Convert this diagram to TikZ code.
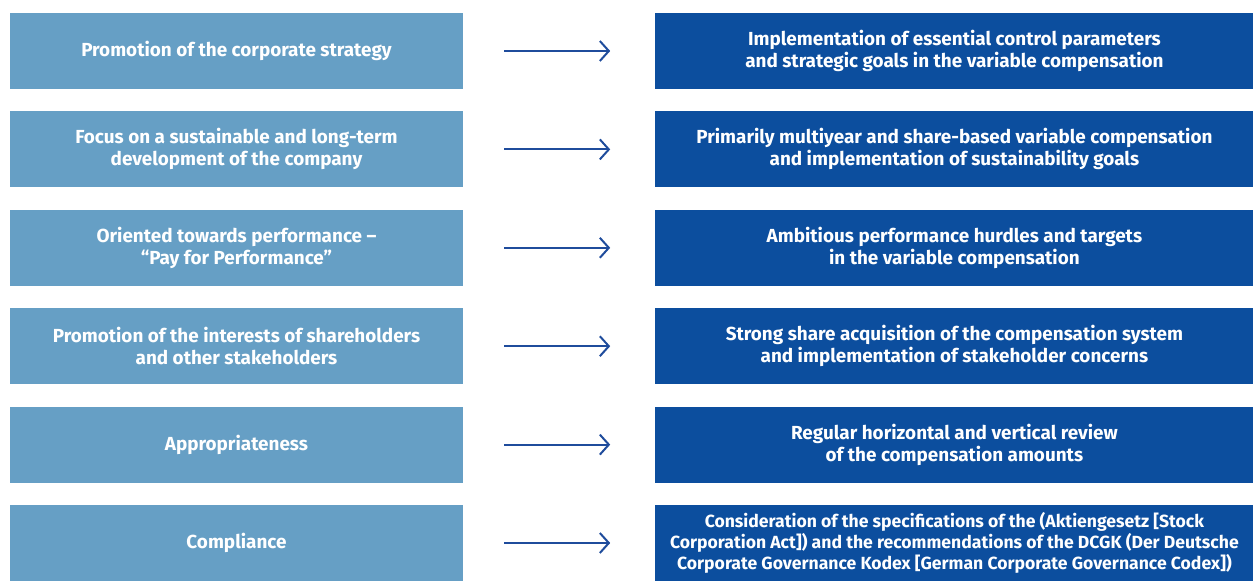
\documentclass[tikz,border=0pt]{standalone}
\usepackage{fontspec}
\setmainfont{Fira Sans}
\usetikzlibrary{positioning,arrows.meta}
\definecolor{goalblue}{HTML}{669FC5}
\definecolor{implblue}{HTML}{0C4E9E}
\definecolor{arrowblue}{HTML}{1F4C9C}
\begin{document}
\begin{tikzpicture}[x=1pt,y=-1pt,
	goal/.style={fill=goalblue,text=white,minimum width=453pt,minimum height=76pt,inner sep=0pt,align=center,font=\fontsize{18.9}{22}\selectfont\bfseries},
	impl/.style={fill=implblue,text=white,minimum width=598pt,minimum height=76pt,inner sep=0pt,align=center,font=\fontsize{18.9}{22}\selectfont\bfseries},
	link/.style={arrowblue,line width=2pt,-{Straight Barb[length=9pt,width=20pt,line width=2pt]}}]
	\useasboundingbox (0,0) rectangle (1253,586);
	
	\node[goal] (g1) at (236.5,51) {Promotion of the corporate strategy};
	\node[goal,below=22pt of g1] (g2) {Focus on a sustainable and long-term\\development of the company};
	\node[goal,below=22pt of g2] (g3) {Oriented towards performance –\\“Pay for Performance”};
	\node[goal,below=22pt of g3] (g4) {Promotion of the interests of shareholders\\and other stakeholders};
	\node[goal,below=22pt of g4] (g5) {Appropriateness};
	\node[goal,below=22pt of g5] (g6) {Compliance};
	
	\node[impl,right=192pt of g1] (i1) {Implementation of essential control parameters\\and strategic goals in the variable compensation};
	\node[impl,right=192pt of g2] (i2) {Primarily multiyear and share-based variable compensation\\and implementation of sustainability goals};
	\node[impl,right=192pt of g3] (i3) {Ambitious performance hurdles and targets\\in the variable compensation};
	\node[impl,right=192pt of g4] (i4) {Strong share acquisition of the compensation system\\and implementation of stakeholder concerns};
	\node[impl,right=192pt of g5] (i5) {Regular horizontal and vertical review\\of the compensation amounts};
	\node[impl,right=192pt of g6,font=\fontsize{17.6}{21}\selectfont\bfseries] (i6) {Consideration of the specifications of the (Aktiengesetz [Stock\\Corporation Act]) and the recommendations of the DCGK (Der Deutsche\\Corporate Governance Kodex [German Corporate Governance Codex])};
	
	\draw[link] ([xshift=41pt]g1.east) -- ([xshift=-45pt]i1.west);
	\draw[link] ([xshift=41pt]g2.east) -- ([xshift=-45pt]i2.west);
	\draw[link] ([xshift=41pt]g3.east) -- ([xshift=-45pt]i3.west);
	\draw[link] ([xshift=41pt]g4.east) -- ([xshift=-45pt]i4.west);
	\draw[link] ([xshift=41pt]g5.east) -- ([xshift=-45pt]i5.west);
	\draw[link] ([xshift=41pt]g6.east) -- ([xshift=-45pt]i6.west);
\end{tikzpicture}
\end{document}
